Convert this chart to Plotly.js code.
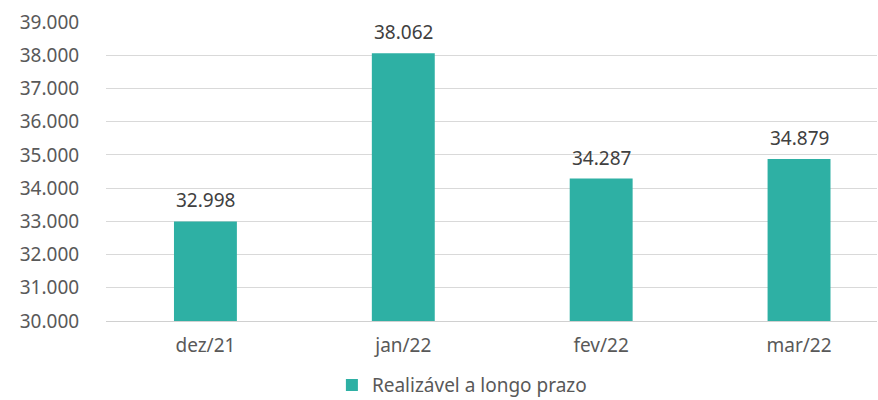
<!DOCTYPE html>
<html>
<head>
<meta charset="utf-8">
<script src="https://cdn.plot.ly/plotly-3.0.1.min.js"></script>
<style>html,body{margin:0;padding:0;background:#fff;}#chart{width:878px;height:400px;}</style>
</head>
<body>
<div id="chart"></div>
<script>
const categories = ['dez/21', 'jan/22', 'fev/22', 'mar/22'];
const values = [32998, 38062, 34287, 34879];
const seriesName = 'Realizável a longo prazo';
const tickValues = [30000, 31000, 32000, 33000, 34000, 35000, 36000, 37000, 38000, 39000];

function fmt(v) {
  return String(Math.round(v)).replace(/\B(?=(\d{3})+(?!\d))/g, '.');
}

const textColor = '#595959';
const fontFamily = '"Noto Sans", "Open Sans", sans-serif';

const trace = {
  type: 'bar',
  x: categories,
  y: values,
  name: seriesName,
  width: 0.318,
  marker: { color: '#2EB0A4' },
  hoverinfo: 'x+y',
  showlegend: true
};

const annotations = categories.map((c, i) => ({
  x: c, y: values[i], xref: 'x', yref: 'y',
  text: fmt(values[i]),
  showarrow: false,
  yanchor: 'bottom',
  yshift: 6,
  font: { family: fontFamily, size: 19, color: '#404040' }
}));

const layout = {
  width: 878,
  height: 400,
  margin: { l: 106, r: 1, t: 22, b: 79, pad: 0, autoexpand: false },
  paper_bgcolor: '#ffffff',
  plot_bgcolor: '#ffffff',
  font: { family: fontFamily, size: 19, color: textColor },
  separators: ',.',
  showlegend: true,
  legend: {
    orientation: 'h',
    xref: 'paper',
    x: 0.293, xanchor: 'left',
    yref: 'container',
    y: 0.037, yanchor: 'middle',
    font: { family: fontFamily, size: 19, color: textColor },
    bgcolor: 'rgba(0,0,0,0)'
  },
  xaxis: {
    type: 'category',
    range: [-0.5025, 3.394],
    showgrid: false,
    showline: true,
    linecolor: '#d0d0d0',
    linewidth: 1,
    ticks: 'outside',
    ticklen: 7,
    tickcolor: 'rgba(0,0,0,0)',
    tickfont: { family: fontFamily, size: 19, color: textColor },
    zeroline: false,
    automargin: false,
    fixedrange: true
  },
  yaxis: {
    range: [30000, 39000],
    tickvals: tickValues,
    ticktext: tickValues.map(fmt),
    showgrid: true,
    gridcolor: '#d9d9d9',
    gridwidth: 1,
    showline: false,
    zeroline: false,
    ticks: 'outside',
    ticklen: 22,
    tickcolor: 'rgba(0,0,0,0)',
    tickfont: { family: fontFamily, size: 19, color: textColor },
    automargin: false,
    fixedrange: true
  },
  annotations: annotations,
  bargap: 0.68
};

Plotly.newPlot('chart', [trace], layout, { displayModeBar: false, staticPlot: true });
</script>
</body>
</html>
